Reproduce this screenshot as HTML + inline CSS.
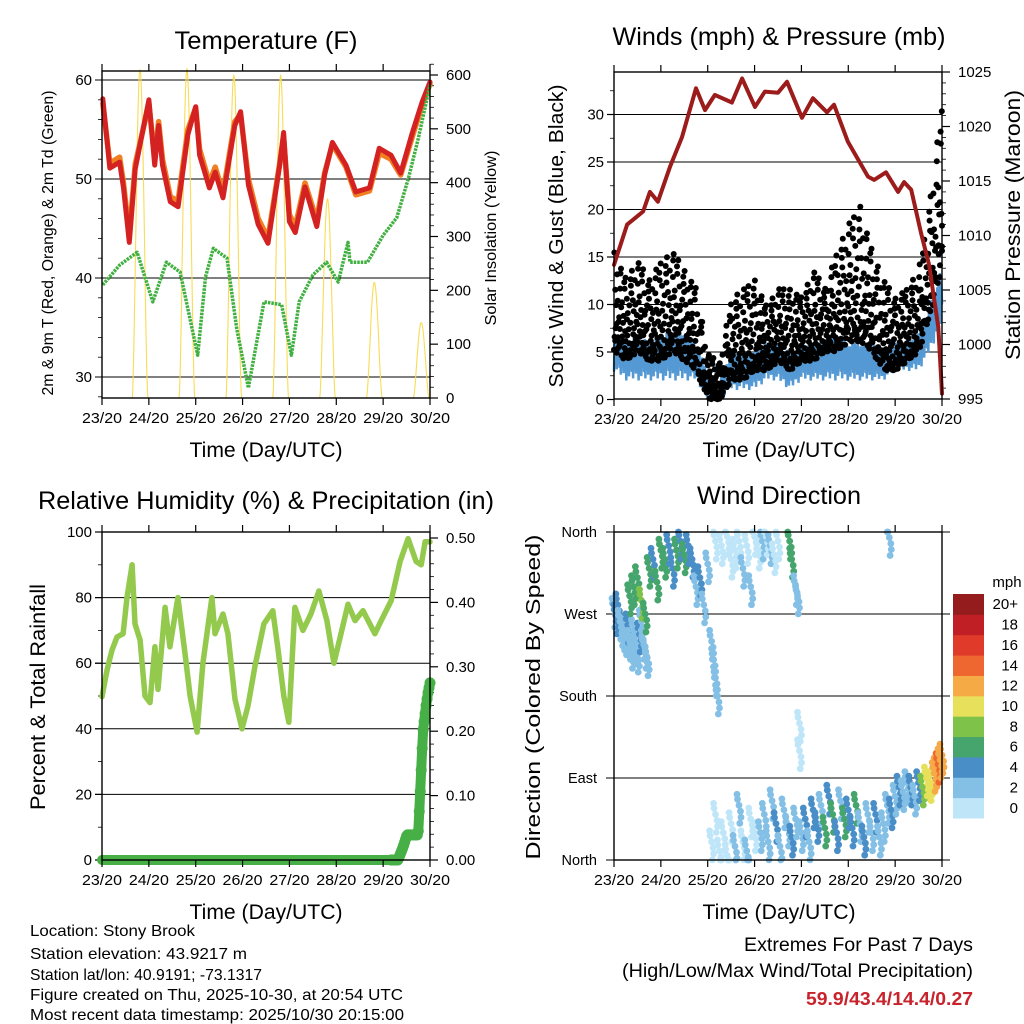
<!DOCTYPE html>
<html><head><meta charset="utf-8"><style>
html,body{margin:0;padding:0;background:#fff}
svg{display:block;font-family:"Liberation Sans",Arial,sans-serif}
</style></head><body>
<svg id="fig" width="1024" height="1024" viewBox="0 0 1024 1024" xmlns="http://www.w3.org/2000/svg"></svg>
<script>
// ---------- DATA ----------
const dayLabels=["23/20","24/20","25/20","26/20","27/20","28/20","29/20","30/20"];
const tempHours=[0.4,4,9,11,14,17,24,27,29,31,35,39,44,48,50,55,58,62,68,71,75,80,85,91,93,96,99,104,110,114,118,125,130,137,142,148,153,159,164,168];
const tempRed=[58.1,51.1,51.7,49.1,43.6,51,58,51.4,55.4,51.4,47.7,47.2,54.5,57.3,52.4,49.1,50.7,48.1,55.4,56.8,49.4,45.4,43.5,51.4,54.7,45.7,44.6,49.2,45.2,50.4,53.7,51.4,48.7,49.1,53.1,52.4,50.6,54.7,57.8,59.8];
const tempOrange=[57.6,51.6,52.2,49.6,44.2,51.5,57.6,52,55.8,52,48.2,47.8,55,57.2,53,49.6,51.2,48.6,55.8,56.5,50,46,44,51.6,54.3,46.4,45.2,49.6,45.8,50.6,53.5,51.2,48.4,48.8,52.6,52,50.4,54.3,57.5,59.6];
const dewHours=[0.4,9,18,26,33,40,49,53,57,64,69,75,83,92,97,101,108,115,121,126,127,136,144,151,157,162,168];
const dewVals=[39.3,41.3,42.6,37.6,41.6,40.6,32.2,40.1,43,42,34.9,28.9,37.6,37.3,32.2,37.6,40.3,41.6,39.6,43.6,41.6,41.6,44.3,46.1,50.1,54.1,59.5];
const solarPeaks=[610,612,600,600,370,215,140];
const presHours=[0,6.7,14.9,18.4,22.5,28.7,34.8,42.0,46.6,51.7,60.4,65.6,72.2,77.3,84.0,88.6,96.3,101.9,109.1,112.7,119.8,130.1,133.2,139.3,145.5,148.6,152.2,157.3,161.4,166.1,168];
const presVals=[1007.3,1011,1012.2,1014,1013.1,1016.3,1019,1023.5,1021.5,1022.9,1022.2,1024.4,1021.8,1023.2,1023.1,1024.1,1020.8,1022.6,1021.3,1022,1018.6,1015.4,1015.1,1015.8,1014,1014.9,1014.2,1010.2,1007.3,1001.6,995.5];
const windLow=[3,2,2,2,2,2,2,2,0,0,1,1,1,2,2,1,2,2,2,2,2,2,2,2,3,3,3,5,8];
const windHigh=[7,6,7,6,7,7,7,6,3,2,5,5,5,6,6,5,6,6,6,7,6,6,6,5,6,6,7,10,14];
const gustLow=[5,4,5,4,4,5,4,3,0,0,2,2,3,3,4,3,4,4,5,5,6,6,5,3,3,4,5,9,14];
const gustHigh=[16,13,15,13,15,16,14,12,5,4,11,12,13,10,12,12,11,14,12,16,19,21,16,13,11,12,14,22,32];
const rhHours=[0,2.6,5.1,7.7,10.8,12.8,15.4,16.9,19.5,22,24.6,27.1,28.7,32.3,34.8,38.9,42.5,45.1,48.7,51.7,56.3,57.9,62,64.5,68.1,71.7,74.8,78.3,82.9,87.5,90,93.1,95.7,98.8,102.9,107,111.1,115.2,118.8,122.4,126,129.6,133.7,139.8,143,148.1,152.7,156.8,160.9,163.5,165.5,168];
const rhVals=[49.8,58,64,68,69,80,90,72,67,50,48,65,52,77,65,80,63,50,39,60,80,69,75,69,49,40,47,59,72,76,65,50,42,77,70,75,82,73,60,69,78,73,76,69,73,79,91,98,91,90,97,97];
const precipHours=[0,40,80,120,151.6,154.2,156.2,161.9,162.9,164.4,166,167,168];
const precipVals=[0,0,0,0,0,0.02,0.039,0.039,0.1,0.2,0.24,0.26,0.275];
const dirHours=[0,1,2,3,4,5,6,7,8,9,10,11,12,13,14,15,16,17,8,10,12,14,16,18,20,22,24,26,28,30,32,34,36,38,40,42,44,46,48,50,51,52,53,52,55,58,60,62,64,66,68,70,72,74,76,78,80,82,84,90,91,93,94,95,95,141,50,52,54,56,58,60,62,64,66,68,70,72,75,77,79,81,83,85,87,89,91,93,96,98,100,102,104,106,108,110,112,114,116,118,120,122,124,126,128,130,132,134,136,138,140,142,144,146,148,150,152,154,156,158,160,162,164,165,166,167,168];
const dirVals=[275,268,280,262,255,250,245,258,240,230,252,235,226,248,262,240,230,222,290,300,310,285,270,320,330,305,340,330,345,320,340,350,335,345,330,300,310,280,325,240,220,200,180,350,345,355,330,340,350,320,345,300,355,340,350,355,345,335,350,350,330,300,290,150,120,354,20,50,10,30,5,40,15,60,20,10,45,30,30,50,20,65,40,15,55,35,25,45,30,45,20,55,40,60,35,70,50,30,65,45,55,35,60,40,25,50,30,50,25,40,60,55,70,80,75,85,80,70,85,80,90,85,95,100,105,110,115];
const dirSpeeds=[3,4,5,3,2,3,2,4,3,2,3,3,2,4,3,2,3,2,7,6,7,8,6,7,5,6,7,6,5,4,6,5,7,4,5,3,4,3,2,3,3,2,2,1,0,1,1,0,1,2,1,2,1,0,2,1,2,1,1,6,7,3,2,1,1,2,1,0,1,1,0,1,2,3,1,2,1,0,2,3,2,3,4,3,2,3,4,3,3,4,3,5,4,3,6,5,7,4,3,6,4,5,7,3,4,3,3,4,3,2,3,4,3,4,3,2,4,3,5,9,10,11,12,13,14,12,13];
const cbLabels=["0","2","4","6","8","10","12","14","16","18","20+"];
const cbColors=["#bfe6f8","#84bfe6","#4a8ec8","#46a56c","#7ec24a","#e6e05a","#f6aa45","#ee6730","#df3a2a","#c01f26","#951c1c"];

// ---------- HELPERS ----------
const NS="http://www.w3.org/2000/svg";
const svg=document.getElementById('fig');
function mk(tag,name,attrs,parent){
  const el=document.createElementNS(NS,tag);
  
  
  for(const k in attrs) el.setAttribute(k,attrs[k]);
  (parent||svg).appendChild(el);
  return el;
}
function txt(name,x,y,s,size,anchor,extra){
  const a=Object.assign({x:x,y:y,'font-size':size,'text-anchor':anchor||'middle',fill:'#000'},extra||{});
  const t=mk('text',name,a);
  t.textContent=s;
  return t;
}
function rot(name,x,y,s,size,extra){
  const a=Object.assign({transform:`translate(${x},${y}) rotate(-90)`,x:0,y:0,'font-size':size,'text-anchor':'middle',fill:'#000'},extra||{});
  const t=mk('text',name,a);
  t.textContent=s;
  return t;
}
function poly(name,pts,stroke,w,extra){
  return mk('polyline',name,Object.assign({points:pts.map(p=>p[0].toFixed(1)+','+p[1].toFixed(1)).join(' '),fill:'none',stroke:stroke,'stroke-width':w,'stroke-linejoin':'round','stroke-linecap':'round'},extra||{}));
}
function interp(xs,ys,x){
  if(x<=xs[0])return ys[0];
  for(let i=1;i<xs.length;i++){ if(x<=xs[i]){const t=(x-xs[i-1])/(xs[i]-xs[i-1]);return ys[i-1]+t*(ys[i]-ys[i-1]);} }
  return ys[ys.length-1];
}
function frame(p,name){
  const L=p.L,R=p.R,T=p.T,B=p.B;
  for(let d=0;d<dayLabels.length;d++){
    const x=L+d*(R-L)/7;
    mk('line',name+'-xtick-bottom',{x1:x,y1:B,x2:x,y2:B+7,stroke:'#000','stroke-width':1.2});
    mk('line',name+'-xtick-top',{x1:x,y1:T,x2:x,y2:T-7,stroke:'#000','stroke-width':1.2});
    txt(name+'-xtick-label',x,B+25,dayLabels[d],15,'middle',{textLength:40,lengthAdjust:'spacingAndGlyphs'});
  }
  mk('rect',name+'-plot-frame',{x:L,y:T,width:R-L,height:B-T,fill:'none',stroke:'#000','stroke-width':1.4});
}
const LA={lengthAdjust:'spacingAndGlyphs'};

// ---------- PANEL 1: TEMPERATURE ----------
const P1={L:102,R:430,T:71,B:398};
const xT=h=>P1.L+h/168*(P1.R-P1.L);
const yT=v=>377-(v-30)*9.9;
const yS=w=>398-w*(323/600);
[30,40,50,60].forEach(v=>{
  mk('line','temp-gridline',{x1:P1.L-7,y1:yT(v),x2:P1.R,y2:yT(v),stroke:'#000','stroke-width':1});
  txt('temp-left-tick-label',P1.L-10,yT(v)+5,String(v),15,'end');
});
for(let v=28;v<=61;v+=2){ if(v%10) mk('line','temp-minor-tick',{x1:P1.L-4,y1:yT(v),x2:P1.L,y2:yT(v),stroke:'#000','stroke-width':0.8}); }
[0,100,200,300,400,500,600].forEach(w=>{
  mk('line','solar-tick',{x1:P1.R,y1:yS(w),x2:P1.R+8,y2:yS(w),stroke:'#000','stroke-width':1.2});
  txt('solar-tick-label',P1.R+16,yS(w)+5,String(w),15,'start');
});
for(let w=20;w<630;w+=20){ if(w%100) mk('line','solar-minor-tick',{x1:P1.R,y1:yS(w),x2:P1.R+4,y2:yS(w),stroke:'#000','stroke-width':0.8}); }
solarPeaks.forEach((pk,d)=>{
  const pts=[];
  const rise=24*d+15.5, set=24*d+23.5, mid=(rise+set)/2;
  for(let h=rise;h<=set+0.01;h+=0.25){
    const s=Math.max(0,Math.cos((h-mid)/(set-rise)*Math.PI));
    pts.push([xT(Math.min(h,168)),yS(pk*Math.pow(s,1.6))]);
  }
  poly('solar-insolation-day-'+(d+1),pts,'#f8dc55',1.1);
});
poly('temp-9m-orange-line',tempHours.map((h,i)=>[xT(h),yT(tempOrange[i])]),'#f07f22',5.5);
poly('temp-2m-red-line',tempHours.map((h,i)=>[xT(h),yT(tempRed[i])]),'#d42222',5);
poly('dewpoint-green-line',dewHours.map((h,i)=>[xT(h),yT(dewVals[i])]),'#40b040',3.5,{'stroke-dasharray':'2.5 1','stroke-linecap':'butt'});
frame(P1,'temp');
txt('temp-title',266,49,'Temperature (F)',25,'middle',Object.assign({textLength:183},LA));
txt('temp-x-axis-title',266,457,'Time (Day/UTC)',21,'middle',Object.assign({textLength:153},LA));
rot('temp-left-axis-title',53,243,'2m & 9m T (Red, Orange) & 2m Td (Green)',15.5,Object.assign({textLength:305},LA));
rot('temp-right-axis-title',496,238,'Solar Insolation (Yellow)',16,Object.assign({textLength:175},LA));

// ---------- PANEL 2: WINDS ----------
const P2={L:614,R:942,T:72,B:399};
const xW=h=>P2.L+h/168*(P2.R-P2.L);
const yWs=v=>399.5-v*9.5;
const yP=m=>399-(m-995)*10.9;
[5,10,15,20,25,30].forEach(v=>mk('line','wind-gridline',{x1:P2.L-7,y1:yWs(v),x2:P2.R,y2:yWs(v),stroke:'#000','stroke-width':1}));
[0,5,10,15,20,25,30].forEach(v=>{
  mk('line','wind-tick',{x1:P2.L-7,y1:yWs(v),x2:P2.L,y2:yWs(v),stroke:'#000','stroke-width':1.2});
  txt('wind-left-tick-label',P2.L-10,yWs(v)+5,String(v),15,'end');
});
for(let v=2.5;v<34;v+=5) mk('line','wind-minor-tick',{x1:P2.L-4,y1:yWs(v),x2:P2.L,y2:yWs(v),stroke:'#000','stroke-width':0.8});
[995,1000,1005,1010,1015,1020,1025].forEach(m=>{
  mk('line','pressure-tick',{x1:P2.R,y1:yP(m),x2:P2.R+8,y2:yP(m),stroke:'#000','stroke-width':1.2});
  txt('pressure-tick-label',P2.R+16,yP(m)+5,String(m),15,'start');
});
for(let m=996;m<1025;m++){ if(m%5) mk('line','pressure-minor-tick',{x1:P2.R,y1:yP(m),x2:P2.R+4,y2:yP(m),stroke:'#000','stroke-width':0.8}); }
const windHoursGrid=windLow.map((v,i)=>i*6);
{
  const pts=[];let k=0;
  const hf=[1,0.8,0.95,0.7,0.9,0.85,1,0.75];
  const lf=[0,0.3,0.1,0.45,0.2,0.05,0.35,0.15,0.5];
  for(let h=0;h<=168;h+=0.35,k++){
    const lo=interp(windHoursGrid,windLow,h), hi=interp(windHoursGrid,windHigh,h);
    const v=(k%2)? lo+(hi-lo)*hf[(k>>1)%hf.length] : lo+(hi-lo)*lf[(k>>1)%lf.length];
    pts.push([xW(h),yWs(v)]);
  }
  poly('sonic-wind-blue-series',pts,'#5499d3',2.5,{'stroke-linejoin':'miter'});
}
{
  const g=mk('g','gust-black-dots',{fill:'#000'});
  const fr=[0.05,0.62,0.31,0.87,0.18,0.97,0.44,0.73,0.12,0.55,0.26,0.81,0.38,0.67,0.02,0.49,0.92,0.22];
  const hs=[0,0.17,0.33,0.09,0.26,0.41];
  let k=0;
  for(let h=0;h<=168;h+=0.5,k++){
    const lo=interp(windHoursGrid,gustLow,h), hi=interp(windHoursGrid,gustHigh,h);
    for(let j=0;j<3;j++){
      const f=fr[(k*7+j*5)%fr.length];
      const hh=Math.min(168,h+hs[(k+j)%hs.length]);
      mk('circle','gust-dot',{cx:xW(hh).toFixed(1),cy:yWs(lo+(hi-lo)*f*f*0.6+(hi-lo)*f*0.4).toFixed(1),r:3},g);
    }
  }
}
poly('station-pressure-maroon-line',presHours.map((h,i)=>[xW(h),yP(presVals[i])]),'#9c1b1b',4);
frame(P2,'wind');
txt('wind-title',779,45,'Winds (mph) & Pressure (mb)',25,'middle',Object.assign({textLength:333},LA));
txt('wind-x-axis-title',779,457,'Time (Day/UTC)',21,'middle',Object.assign({textLength:153},LA));
rot('wind-left-axis-title',563,236,'Sonic Wind & Gust (Blue, Black)',20,Object.assign({textLength:303},LA));
rot('pressure-right-axis-title',1020,225,'Station Pressure (Maroon)',21,Object.assign({textLength:270},LA));

// ---------- PANEL 3: RH & PRECIP ----------
const P3={L:102,R:430,T:532,B:860};
const xR=h=>P3.L+h/168*(P3.R-P3.L);
const yRH=v=>860-v*3.28;
const yPr=p=>860-p*644;
[20,40,60,80,100].forEach(v=>mk('line','rh-gridline',{x1:P3.L-7,y1:yRH(v),x2:P3.R,y2:yRH(v),stroke:'#000','stroke-width':1}));
[0,20,40,60,80,100].forEach(v=>{
  mk('line','rh-tick',{x1:P3.L-7,y1:yRH(v),x2:P3.L,y2:yRH(v),stroke:'#000','stroke-width':1.2});
  txt('rh-left-tick-label',P3.L-10,yRH(v)+5,String(v),15,'end');
});
for(let v=10;v<100;v+=20) mk('line','rh-minor-tick',{x1:P3.L-4,y1:yRH(v),x2:P3.L,y2:yRH(v),stroke:'#000','stroke-width':0.8});
[0,0.1,0.2,0.3,0.4,0.5].forEach(p=>{
  mk('line','precip-tick',{x1:P3.R,y1:yPr(p),x2:P3.R+8,y2:yPr(p),stroke:'#000','stroke-width':1.2});
  txt('precip-tick-label',P3.R+16,yPr(p)+5,p.toFixed(2),15,'start');
});
for(let p=0.02;p<0.5;p+=0.02){ if(Math.round(p*100)%10) mk('line','precip-minor-tick',{x1:P3.R,y1:yPr(p),x2:P3.R+4,y2:yPr(p),stroke:'#000','stroke-width':0.8}); }
poly('relative-humidity-line',rhHours.map((h,i)=>[xR(h),yRH(rhVals[i])]),'#93c94c',5.5);
{
  const pts=[];
  for(let h=0;h<=168;h+=0.5) pts.push([xR(h),yPr(interp(precipHours,precipVals,h))]);
  poly('total-rainfall-line',pts,'#46b046',10);
  const g=mk('g','total-rainfall-markers',{fill:'#46b046'});
  for(let h=148;h<=168;h+=0.5) mk('circle','rainfall-marker',{cx:xR(h),cy:yPr(interp(precipHours,precipVals,h)),r:5.5},g);
}
frame(P3,'rh');
txt('rh-title',266,509,'Relative Humidity (%) & Precipitation (in)',25,'middle',Object.assign({textLength:456},LA));
txt('rh-x-axis-title',266,919,'Time (Day/UTC)',21,'middle',Object.assign({textLength:153},LA));
rot('rh-left-axis-title',45,697,'Percent & Total Rainfall',21,Object.assign({textLength:226},LA));

// ---------- PANEL 4: WIND DIRECTION ----------
const P4={L:614,R:942,T:532,B:860};
const xD=h=>P4.L+h/168*(P4.R-P4.L);
const yD=d=>860-d*328/360;
const dirTicks=[[0,'North'],[90,'East'],[180,'South'],[270,'West'],[360,'North']];
dirTicks.forEach(([d,l])=>{
  mk('line','direction-gridline',{x1:P4.L-8,y1:yD(d),x2:P4.R+8,y2:yD(d),stroke:'#000','stroke-width':1});
  txt('direction-tick-label',P4.L-17,yD(d)+5,l,14.5,'end');
});
function spdColor(s){ let i=Math.floor(s/2); if(i>10)i=10; if(i<0)i=0; return cbColors[i]; }
{
  const g=mk('g','wind-direction-points',{});
  const off=[[0,0],[1.5,6],[-1.5,-6],[2,12],[-2,-11],[0.8,18]];
  dirHours.forEach((h,i)=>{
    off.forEach(o=>{
      const y=Math.max(P4.T,Math.min(P4.B,yD(dirVals[i])+o[1]));
      mk('circle','direction-point',{cx:(xD(h)+o[0]).toFixed(1),cy:y.toFixed(1),r:3.4,fill:spdColor(dirSpeeds[i])},g);
    });
  });
}
frame(P4,'direction');
txt('direction-title',779,504,'Wind Direction',25,'middle',Object.assign({textLength:164},LA));
txt('direction-x-axis-title',779,919,'Time (Day/UTC)',21,'middle',Object.assign({textLength:153},LA));
rot('direction-left-axis-title',540,697,'Direction (Colored By Speed)',20,Object.assign({textLength:325},LA));
const cbTop=594, cbH=224/11;
cbColors.forEach((c,i)=>{
  const y=cbTop+(10-i)*cbH;
  mk('rect','colorbar-box-'+cbLabels[i],{x:953,y:y,width:31,height:cbH+0.5,fill:c});
  txt('colorbar-label',1018,y+cbH/2+5,cbLabels[i],15,'end');
});
txt('colorbar-units','1007','587','mph',15);

// ---------- FOOTER ----------
const info=["Location: Stony Brook","Station elevation: 43.9217 m","Station lat/lon: 40.9191; -73.1317","Figure created on Thu, 2025-10-30, at 20:54 UTC","Most recent data timestamp: 2025/10/30 20:15:00"];
const infoY=[936,959,980,1000,1020];
const infoW=[165,217,232,373,374];
info.forEach((s,i)=>txt('station-info-line',30,infoY[i],s,16,'start',Object.assign({textLength:infoW[i]},LA)));
txt('extremes-heading',973,951,'Extremes For Past 7 Days',19,'end',Object.assign({textLength:229},LA));
txt('extremes-subheading',973,977,'(High/Low/Max Wind/Total Precipitation)',19,'end',Object.assign({textLength:351},LA));
txt('extremes-values',973,1005,'59.9/43.4/14.4/0.27',18,'end',Object.assign({fill:'#c8232c','font-weight':'bold',textLength:167},LA));
</script>
</body></html>
